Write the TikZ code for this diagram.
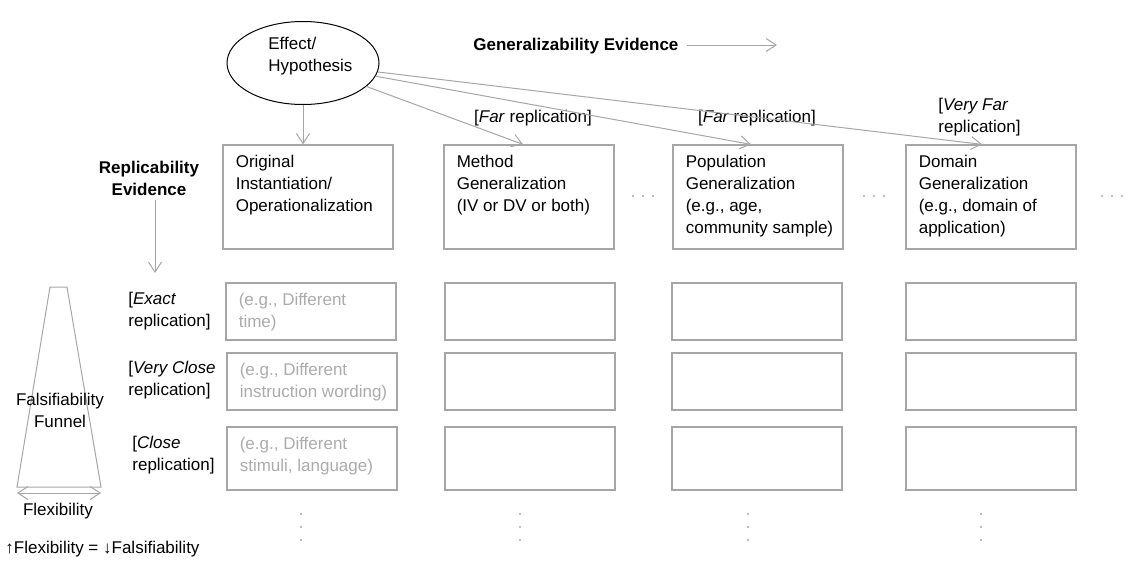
\documentclass[tikz,border=0pt]{standalone}
\usepackage{fontspec}
\setmainfont{Liberation Sans}
\usetikzlibrary{arrows.meta,shapes.geometric}
\definecolor{linegray}{HTML}{A6A6A6}
\definecolor{textgray}{HTML}{ABABAB}

\begin{document}
\begin{tikzpicture}[x=0.5pt,y=-0.5pt,
    every node/.style={font=\fontsize{8.5}{11}\selectfont,inner sep=0pt}]

        \tikzstyle{graybox}=[draw=linegray,line width=0.6pt,minimum width=85pt]
        \tikzstyle{boxtext}=[anchor=north west,align=left,xshift=6.5pt,yshift=-5pt]
        \tikzstyle{grayline}=[draw=linegray,line width=0.5pt]
        \tikzstyle{grayarrow}=[grayline,-{Straight Barb[length=5pt,width=6.5pt]}]

        \useasboundingbox (0,0) rectangle (1145,578);

        %% Effect / Hypothesis
        \node[ellipse,draw,line width=0.5pt,minimum width=76pt,minimum height=41.5pt] (eff) at (303,63) {};
        \node[align=left,anchor=west] (efftxt) at (268,56) {Effect/\\Hypothesis};

        \node[anchor=west] (gen) at (473,46) {\textbf{Generalizability Evidence}};
        \coordinate (genend) at (777,45);
        \draw[grayarrow] ([xshift=4pt]gen.east |- genend) -- (genend);

        \node[align=center] (rep) at (149,178) {\textbf{Replicability}\\\textbf{Evidence}};
        \coordinate (repend) at (155,273);
        \draw[grayarrow] ([yshift=-2pt]rep.south -| repend) -- (repend);

        %% Generalization boxes
        \node[graybox,minimum height=52pt,label={[boxtext]north west:{Original\\Instantiation/\\Operationalization}}] (orig) at (308,197) {};
        \node[graybox,minimum height=52pt,label={[boxtext]north west:{Method\\Generalization\\(IV or DV or both)}}] (meth) at (529,197) {};
        \node[graybox,minimum height=52pt,label={[boxtext]north west:{Population\\Generalization\\(e.g., age,\\community sample)}}] (popu) at (758,197) {};
        \node[graybox,minimum height=52pt,label={[boxtext]north west:{Domain\\Generalization\\(e.g., domain of\\application)}}] (doma) at (991,197) {};

        \node (farmeth) at (533,118) {[\textit{Far} replication]};
        \node (farpopu) at (757,118) {[\textit{Far} replication]};
        \node[align=left,anchor=west] (fardoma) at (938,117) {[\textit{Very Far}\\replication]};

        \draw[grayarrow] (eff) -- (eff |- orig.north);
        \draw[grayarrow] (eff) -- ([xshift=-3pt]meth.north);
        \draw[grayarrow] (eff) -- ([xshift=-3.5pt]popu.north);
        \draw[grayarrow] (eff) -- ([xshift=-4.5pt]doma.north);

        %% Replication rows
        \node[align=left,anchor=west] (exact) at (128,311) {[\textit{Exact}\\replication]};
        \node[align=left,anchor=west] (vclose) at (128,380) {[\textit{Very Close}\\replication]};
        \node[align=left,anchor=west] (close) at (132,455) {[\textit{Close}\\replication]};

        \node[graybox,minimum height=28.5pt,label={[boxtext,text=textgray]north west:{(e.g., Different\\time)}}] (exact1) at (311,311.5) {};
        \node[graybox,minimum height=28.5pt] (exact2) at (530,311.5) {};
        \node[graybox,minimum height=28.5pt] (exact3) at (757,311.5) {};
        \node[graybox,minimum height=28.5pt] (exact4) at (991,311.5) {};

        \node[graybox,minimum height=28.5pt,label={[boxtext,text=textgray]north west:{(e.g., Different\\instruction wording)}}] (vclose1) at (312,381.5) {};
        \node[graybox,minimum height=28.5pt] (vclose2) at (530,381.5) {};
        \node[graybox,minimum height=28.5pt] (vclose3) at (757,381.5) {};
        \node[graybox,minimum height=28.5pt] (vclose4) at (991,381.5) {};

        \node[graybox,minimum height=31.5pt,label={[boxtext,text=textgray]north west:{(e.g., Different\\stimuli, language)}}] (close1) at (312,458.5) {};
        \node[graybox,minimum height=31.5pt] (close2) at (530,458.5) {};
        \node[graybox,minimum height=31.5pt] (close3) at (757,458.5) {};
        \node[graybox,minimum height=31.5pt] (close4) at (991,458.5) {};

        %% dots
        \foreach \x in {643,874,1112}
            \foreach \d in {-10,0,10}
                \fill[linegray] (\x+\d,196) circle (0.6pt);
        \foreach \x in {301,520,748,981}
            \foreach \y in {514,527,540}
                \fill[linegray] (\x,\y) circle (0.6pt);

        %% Falsifiability funnel
        \draw[grayline] (50,287) -- (67,287) -- (101,487) -- (17,487) -- cycle;
        \node[align=center] (funnel) at (60,410) {Falsifiability\\Funnel};
        \coordinate (flexl) at (17,493);
        \coordinate (flexr) at (101,493);
        \draw[grayline,{Straight Barb[length=5pt,width=6.5pt]}-{Straight Barb[length=5pt,width=6.5pt]}] (flexl) -- (flexr);
        \node (flex) at (58,511) {Flexibility};
        \node[anchor=west] (rule) at (5,549) {↑Flexibility = ↓Falsifiability};

\end{tikzpicture}
\end{document}
